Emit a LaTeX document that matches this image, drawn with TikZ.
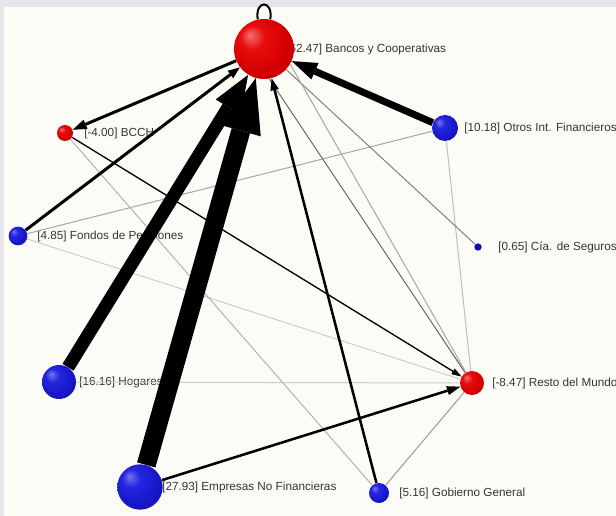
\documentclass[tikz,border=0pt]{standalone}
\usepackage{fontspec}
\setmainfont{Liberation Sans}
\usetikzlibrary{arrows.meta}
\pgfdeclarelayer{bg}
\pgfdeclarelayer{labels}
\pgfdeclarelayer{edges}
\pgfsetlayers{bg,labels,edges,main}
\definecolor{paper}{HTML}{FCFCF6}
\definecolor{framecol}{HTML}{E4E6EC}
\definecolor{txt}{HTML}{353535}
\definecolor{sred}{HTML}{E80000}
\definecolor{sblue}{HTML}{1A1AE0}
\definecolor{sdark}{HTML}{0A0AB0}
\pgfdeclareradialshading{redsph}{\pgfqpoint{-12bp}{12bp}}{color(0bp)=(sred!55!white); color(10bp)=(sred!95!white); color(24bp)=(sred!92!black); color(40bp)=(sred!78!black); color(50bp)=(sred!55!black)}
\pgfdeclareradialshading{bluesph}{\pgfqpoint{-12bp}{12bp}}{color(0bp)=(sblue!60!white); color(10bp)=(sblue!95!white); color(24bp)=(sblue!90!black); color(40bp)=(sblue!72!black); color(50bp)=(sblue!50!black)}
\tikzset{
  sph/.style={circle, inner sep=0pt, minimum size=#1},
  redball/.style={sph=#1, shading=redsph},
  blueball/.style={sph=#1, shading=bluesph},
  dotball/.style={sph=#1, fill=sdark},
  lab/.style={anchor=west, inner sep=0pt, text=txt, font=\fontsize{8.8pt}{10pt}\selectfont},
  flow/.style={draw=black, line width=#1},
  grayedge/.style={draw=#1, line width=0.75pt},
}
\begin{document}
\begin{tikzpicture}[x=0.75pt,y=-0.75pt]
\useasboundingbox (0,0) rectangle (616,516);
\begin{pgfonlayer}{bg}
  \fill[paper] (0,0) rectangle (616,516);
  \fill[framecol] (0,0) rectangle (616,7);
  \fill[framecol] (0,0) rectangle (4,516);
\end{pgfonlayer}

% spheres (diameter in pt = px * 0.75)
\node[redball=45pt]   (bank)   at (264,49)  {};
\node[redball=12pt]   (bcch)   at (65,133)  {};
\node[blueball=19.5pt] (otros) at (445,128) {};
\node[blueball=14pt]  (fondos) at (18,236)  {};
\node[dotball=5.5pt]  (cia)    at (478,247) {};
\node[blueball=25.5pt] (hog)   at (59,382)  {};
\node[redball=18pt]   (resto)  at (472,383) {};
\node[blueball=34pt]  (emp)    at (140,487) {};
\node[blueball=15pt]  (gob)    at (379,493) {};

\begin{pgfonlayer}{labels}
  \node[lab] (lbank)   at (286,49)  {[62.47] Bancos y Cooperativas};
  \node[lab] (lbcch)   at (84,133)  {[-4.00] BCCH};
  \node[lab] (lotros)  at (464,128) {[10.18] Otros Int. Financieros};
  \node[lab] (lfondos) at (37,236)  {[4.85] Fondos de Pensiones};
  \node[lab] (lcia)    at (498,247) {[0.65] Cía. de Seguros};
  \node[lab] (lhog)    at (79,382)  {[16.16] Hogares};
  \node[lab] (lresto)  at (492,383) {[-8.47] Resto del Mundo};
  \node[lab] (lemp)    at (162,487) {[27.93] Empresas No Financieras};
  \node[lab] (lgob)    at (399,493) {[5.16] Gobierno General};
\end{pgfonlayer}

\begin{pgfonlayer}{edges}
  % thin grey links
  \draw[grayedge=black!20] (fondos) -- (resto);
  \draw[grayedge=black!20] (hog) -- (resto);
  \draw[grayedge=black!25] (otros) -- (resto);
  \draw[grayedge=black!35] (otros) -- (fondos);
  \draw[grayedge=black!30] (bcch) -- (gob);
  \draw[grayedge=black!40] (gob) -- (resto);
  \draw[grayedge=black!50] (bank) -- (cia);
  \draw[grayedge=black!60] (bank.-80) -- (resto);
  \draw[grayedge=black!35] (bank.-30) -- (resto);
  % black flows
  \draw[flow=1pt, -{Triangle[length=7.5pt,width=5pt,line width=0pt]}] (bcch) -- (resto);
  \draw[flow=1.9pt, -{Triangle[length=10pt,width=7pt,line width=0pt]}] (emp) -- (resto);
  \draw[flow=1.9pt, -{Triangle[length=9pt,width=6.5pt,line width=0pt]}] (gob) -- (bank);
  \draw[flow=2.25pt, -{Triangle[length=10.5pt,width=7.5pt,line width=0pt]}] (bank) -- (bcch);
  \draw[flow=2.25pt, -{Triangle[length=9pt,width=7pt,line width=0pt]}] (fondos) -- (bank);
  \draw[flow=5.25pt, -{Triangle[length=19pt,width=13.5pt,line width=0pt]}] (otros) -- (bank);
  \draw[flow=9.75pt, -{Triangle[length=28.5pt,width=22pt,line width=0pt]}] (hog) -- (bank);
  \draw[flow=14.25pt, -{Triangle[length=41pt,width=31pt,line width=0pt]}] (emp) -- (bank);
  % self loop
  \draw[line width=1.5pt] (bank.102) .. controls +(-3,-20) and +(3,-20) .. (bank.78);
\end{pgfonlayer}
\end{tikzpicture}
\end{document}
